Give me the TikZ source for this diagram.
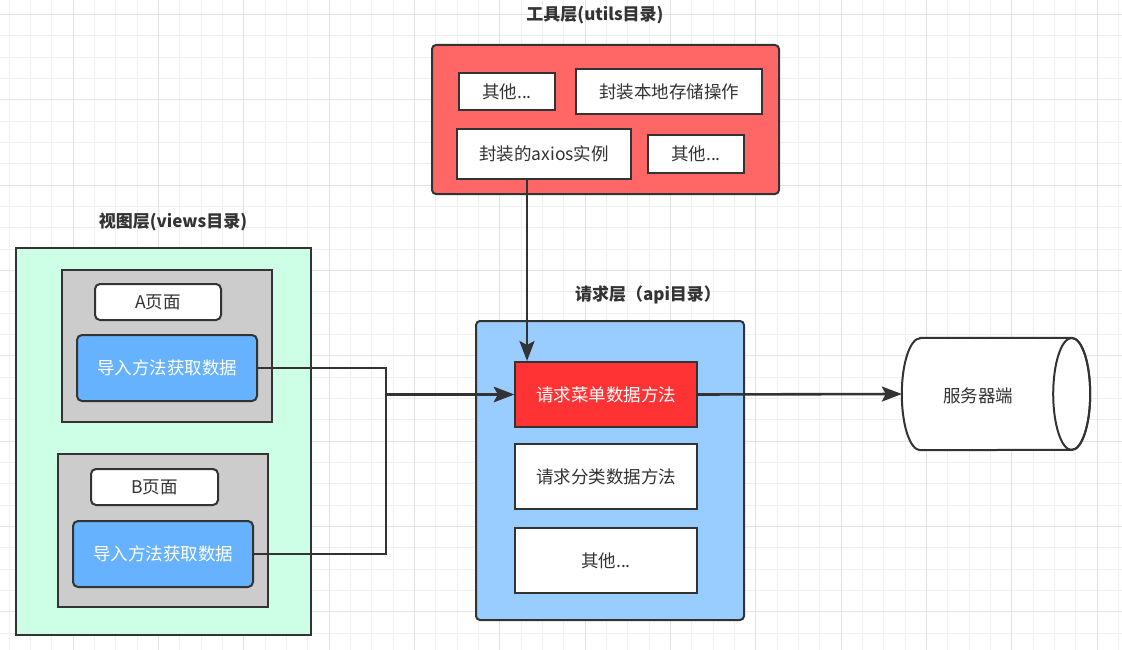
\documentclass[tikz,border=0pt]{standalone}
\usepackage{fontspec}
\setmainfont{Noto Sans CJK SC}
\usepackage{tikz}
\usetikzlibrary{positioning, arrows.meta}

\definecolor{lineC}{HTML}{333333}
\definecolor{utilsred}{HTML}{FF6666}
\definecolor{viewsgreen}{HTML}{CCFFE6}
\definecolor{pagegray}{HTML}{CCCCCC}
\definecolor{btnblue}{HTML}{66B2FF}
\definecolor{apiblue}{HTML}{99CCFF}
\definecolor{menured}{HTML}{FF3333}
\definecolor{gridminor}{HTML}{F0F0F0}
\definecolor{gridmajor}{HTML}{E3E3E3}

\begin{document}
\begin{tikzpicture}[x=1pt, y=-1pt]
    % Stile dei blocchi
    \tikzstyle{lbl} = [text=lineC, font=\bfseries\fontsize{17}{20}\selectfont]
    \tikzstyle{box} = [draw=lineC, line width=2pt, rectangle, inner sep=0pt, text=lineC, font=\fontsize{17.5}{21}\selectfont]
    \tikzstyle{wbox} = [box, fill=white]
    \tikzstyle{rbox} = [wbox, rounded corners=5pt]
    \tikzstyle{btn} = [box, fill=btnblue, text=white, rounded corners=5pt, minimum width=180pt, minimum height=66pt]
    \tikzstyle{conn} = [draw=lineC, line width=2.6pt, -{Stealth[length=20pt, width=15pt, inset=4pt]}]

    \useasboundingbox (0,0) rectangle (1122,650);
    \fill[white] (0,0) rectangle (1122,650);

    % Griglia
    \foreach \i in {0,...,52}
        \draw[gridminor, line width=1pt] ({9.3+21.333*\i},0) -- ({9.3+21.333*\i},650);
    \foreach \i in {0,...,29}
        \draw[gridminor, line width=1pt] (0,{14.5+21.333*\i}) -- (1122,{14.5+21.333*\i});
    \foreach \i in {0,...,12}
        \draw[gridmajor, line width=1pt] ({73.3+85.333*\i},0) -- ({73.3+85.333*\i},650);
    \foreach \i in {0,...,7}
        \draw[gridmajor, line width=1pt] (0,{14.5+85.333*\i}) -- (1122,{14.5+85.333*\i});

    % Nodi - utils
    \node [lbl] (utilslbl) at (595,15) {工具层(utils目录)};
    \node [box, fill=utilsred, rounded corners=4pt, minimum width=347pt, minimum height=149pt] (utils) at (605.5,119.5) {};
    \node [wbox, minimum width=96pt, minimum height=37pt] (other1) at (507,91.5) {其他...};
    \node [wbox, minimum width=186pt, minimum height=45pt] (storage) at (669,91.5) {封装本地存储操作};
    \node [wbox, minimum width=174pt, minimum height=50pt] (axios) at (544,154) {封装的axios实例};
    \node [wbox, minimum width=96pt, minimum height=38pt] (other2) at (696,154) {其他...};

    % Nodi - views
    \node [lbl] (viewslbl) at (173,222) {视图层(views目录)};
    \node [box, fill=viewsgreen, minimum width=295pt, minimum height=387pt] (views) at (163.5,441.5) {};
    \node [box, fill=pagegray, minimum width=210pt, minimum height=152pt] (pagea) at (167,346) {};
    \node [rbox, minimum width=126pt, minimum height=36pt] (pagealbl) at (158,302) {A页面};
    \node [btn] (btna) at (167,368) {导入方法获取数据};
    \node [box, fill=pagegray, minimum width=210pt, minimum height=153pt] (pageb) at (163,530.5) {};
    \node [rbox, minimum width=127pt, minimum height=36pt] (pageblbl) at (154.5,487) {B页面};
    \node [btn] (btnb) at (163,554) {导入方法获取数据};

    % Nodi - api
    \node [lbl] (apilbl) at (648,295) {请求层（api目录）};
    \node [box, fill=apiblue, rounded corners=4pt, minimum width=268pt, minimum height=299pt] (api) at (610,470.5) {};
    \node [box, fill=menured, text=white, minimum width=182pt, minimum height=65pt] (menu) at (606,394.5) {请求菜单数据方法};
    \node [wbox, below=15pt of menu, minimum width=182pt, minimum height=65pt] (category) {请求分类数据方法};
    \node [wbox, below=17pt of category, minimum width=182pt, minimum height=65pt] (apiother) {其他...};

    % Server (cilindro)
    \node [minimum width=188pt, minimum height=112pt, inner sep=0pt] (server) at (996,394) {};
    \draw [draw=lineC, line width=2pt, fill=white]
        ([xshift=18.5pt]server.north west) -- ([xshift=-18.5pt]server.north east)
        arc[start angle=-90, end angle=90, x radius=18.5, y radius=56]
        -- ([xshift=18.5pt]server.south west)
        arc[start angle=90, end angle=270, x radius=18.5, y radius=56] -- cycle;
    \draw [draw=lineC, line width=2pt] ([xshift=-18.5pt]server.east) ellipse [x radius=18.5, y radius=56];
    \node [text=lineC, font=\fontsize{17.5}{21}\selectfont] (serverlbl) at (978,396) {服务器端};

    % Collegamenti
    \coordinate (join) at (386,394.5);
    \draw [conn] (btna.east) -| (join) -- (menu.west);
    \draw [conn] (btnb.east) -| (join) -- (menu.west);
    \coordinate (tap) at ([xshift=-17pt]axios.south);
    \draw [conn] (tap) -- (tap |- menu.north);
    \draw [conn] (menu.east) -- (server.west);
\end{tikzpicture}
\end{document}
